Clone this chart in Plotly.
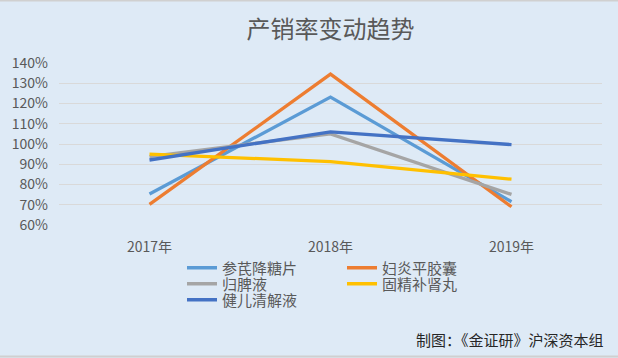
import plotly.graph_objects as go

years = ["2017年", "2018年", "2019年"]
series_names = ["参芪降糖片", "妇炎平胶囊", "归脾液", "固精补肾丸", "健儿清解液"]
shenqi = [0.753, 1.232, 0.715]
fuyan = [0.702, 1.345, 0.690]
guipi = [0.938, 1.050, 0.751]
gujing = [0.950, 0.913, 0.826]
jianer = [0.921, 1.060, 0.997]
series_values = [shenqi, fuyan, guipi, gujing, jianer]
colors = ["#5B9BD5", "#ED7D31", "#A5A5A5", "#FFC000", "#4472C4"]
legend_ids = ["legend", "legend", "legend2", "legend2", "legend3"]
y_ticks = [0.6, 0.7, 0.8, 0.9, 1.0, 1.1, 1.2, 1.3, 1.4]

FONT = "Noto Sans CJK SC, Microsoft YaHei, sans-serif"
GREY = "#595959"
BG = "#DEEAF6"

fig = go.Figure()
for name, vals, col, lg in zip(series_names, series_values, colors, legend_ids):
    fig.add_trace(go.Scatter(x=years, y=vals, name=name, mode="lines",
                             line=dict(color=col, width=3.3), legend=lg))

W, H = 618, 358
ml, mr, mt, mb = 59, 16, 63, 133
pw, ph = W - ml - mr, H - mt - mb

def px_x(X):
    return (X - ml) / pw

def px_y(Y):
    return (H - mb - Y) / ph

leg_common = dict(orientation="h", xanchor="left", yanchor="middle",
                  entrywidth=115, entrywidthmode="pixels",
                  font=dict(family=FONT, size=15, color=GREY),
                  bgcolor="rgba(0,0,0,0)", itemclick=False, itemdoubleclick=False)

fig.update_layout(
    width=W, height=H,
    margin=dict(l=ml, r=mr, t=mt, b=mb),
    paper_bgcolor=BG, plot_bgcolor=BG,
    font=dict(family=FONT, color=GREY),
    title=dict(text="产销率变动趋势", x=0.5, xanchor="center", xref="paper",
               y=1 - 30 / H, yanchor="middle",
               font=dict(family=FONT, size=24, color=GREY)),
    xaxis=dict(type="category", range=[-0.5, 2.5], showgrid=False, zeroline=False,
               showline=False, ticks="", tickfont=dict(family=FONT, size=14, color=GREY),
               ticklabelstandoff=12, fixedrange=True),
    yaxis=dict(range=[0.6, 1.4], tickvals=y_ticks, tickformat=".0%",
               showgrid=True, gridcolor="#D9D9D9", gridwidth=1, zeroline=False,
               showline=False, ticks="", tickfont=dict(family=FONT, size=14, color=GREY),
               ticklabelstandoff=10, fixedrange=True),
    legend=dict(x=px_x(182), y=px_y(268), **leg_common),
    legend2=dict(x=px_x(182), y=px_y(284), **leg_common),
    legend3=dict(x=px_x(182), y=px_y(300), **leg_common),
    annotations=[dict(text="制图：《金证研》沪深资本组", xref="paper", yref="paper",
                      x=px_x(606), y=px_y(339), xanchor="right", yanchor="middle",
                      showarrow=False, font=dict(family=FONT, size=15, color="#262626"))],
    shapes=[
        dict(type="line", xref="paper", yref="paper", x0=px_x(0), x1=px_x(W),
             y0=px_y(0.5), y1=px_y(0.5), line=dict(color="#D0D0D0", width=2)),
        dict(type="line", xref="paper", yref="paper", x0=px_x(0), x1=px_x(W),
             y0=px_y(356.5), y1=px_y(356.5), line=dict(color="#D0D0D0", width=2)),
    ],
)

fig.write_html("out.html", config={"displayModeBar": False},
               post_script="document.body.style.margin='0';document.body.style.overflow='hidden';")
